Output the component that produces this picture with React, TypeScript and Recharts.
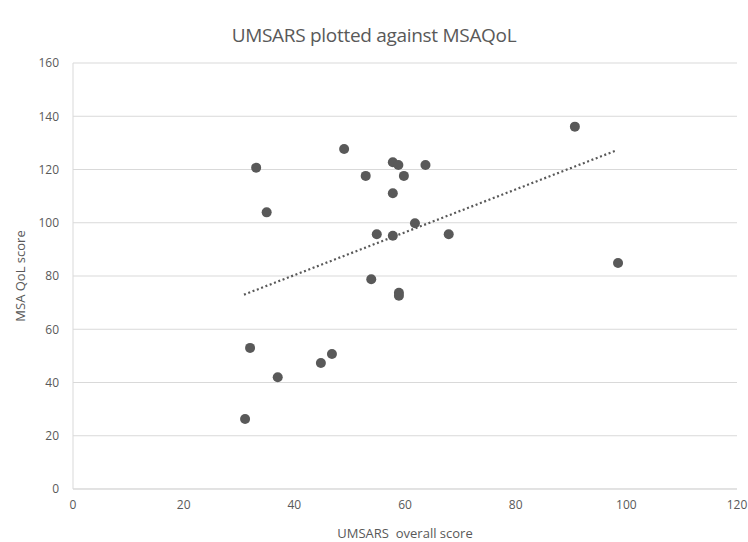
import {
  ComposedChart,
  Scatter,
  Line,
  XAxis,
  YAxis,
  CartesianGrid,
} from 'recharts'

// UMSARS overall score (x) vs MSA QoL score (y)
const umsars = [
  31.1, 32.0, 33.1, 35.0, 37.0, 44.8, 46.8, 49.0, 52.9, 53.9, 54.9, 57.8,
  57.8, 57.8, 58.8, 58.9, 58.9, 59.8, 61.8, 63.7, 67.9, 90.7, 98.5,
]
const msaQol = [
  26.3, 53.0, 120.7, 103.9, 42.0, 47.3, 50.7, 127.7, 117.6, 78.8, 95.7, 122.7,
  111.1, 95.1, 121.7, 73.7, 72.6, 117.6, 99.8, 121.7, 95.7, 136.1, 84.9,
]

// dotted linear trendline, end points
const trendX = [30.9, 98.0]
const trendY = [73.0, 127.0]

const xTicks = [0, 20, 40, 60, 80, 100, 120]
const yTicks = [0, 20, 40, 60, 80, 100, 120, 140, 160]

const points = umsars.map((x, i) => ({ x, y: msaQol[i] }))
const trend = trendX.map((x, i) => ({ x, y: trendY[i] }))

const GREY = '#595959'
const GRID = '#d9d9d9'
const FONT = "'Open Sans', 'Noto Sans', sans-serif"

export default function App() {
  return (
    <div
      style={{
        position: 'absolute',
        left: 0,
        top: 0,
        width: 748,
        height: 542,
        background: '#fff',
        fontFamily: FONT,
      }}
    >
      <div
        style={{
          position: 'absolute',
          top: 22,
          left: 0,
          width: 748,
          textAlign: 'center',
          fontSize: 19,
          color: GREY,
          letterSpacing: -0.3,
        }}
      >
        UMSARS plotted against MSAQoL
      </div>
      <div
        style={{
          position: 'absolute',
          top: 526,
          left: 73,
          width: 664,
          textAlign: 'center',
          fontSize: 13,
          lineHeight: '15px',
          color: GREY,
        }}
      >
        UMSARS&nbsp; overall score
      </div>
      <div
        style={{
          position: 'absolute',
          left: 20,
          top: 276,
          transform: 'translate(-50%, -50%) rotate(-90deg)',
          fontSize: 13,
          color: GREY,
          whiteSpace: 'nowrap',
        }}
      >
        MSA QoL score
      </div>
      <ComposedChart
        width={748}
        height={542}
        margin={{ top: 63, right: 11, bottom: 0, left: 0 }}
        style={{ position: 'absolute', left: 0, top: 0 }}
      >
        <CartesianGrid vertical={false} stroke={GRID} />
        <XAxis
          type="number"
          dataKey="x"
          domain={[0, 120]}
          ticks={xTicks}
          allowDataOverflow
          axisLine={{ stroke: GRID }}
          tickLine={false}
          tickMargin={5}
          tick={{ fill: GREY, fontSize: 12, fontFamily: FONT }}
          height={53}
        />
        <YAxis
          type="number"
          dataKey="y"
          domain={[0, 160]}
          ticks={yTicks}
          allowDataOverflow
          axisLine={{ stroke: GRID }}
          tickLine={false}
          tickMargin={8}
          tick={{ fill: GREY, fontSize: 12, fontFamily: FONT }}
          width={73}
        />
        <Scatter
          data={points}
          dataKey="y"
          fill={GREY}
          isAnimationActive={false}
          shape={(p: any) => <circle cx={p.cx} cy={p.cy} r={5} fill={GREY} />}
        />
        <Line
          data={trend}
          dataKey="y"
          stroke={GREY}
          strokeWidth={2.2}
          strokeDasharray="2 2.6"
          dot={false}
          activeDot={false}
          isAnimationActive={false}
          type="linear"
        />
      </ComposedChart>
    </div>
  )
}
